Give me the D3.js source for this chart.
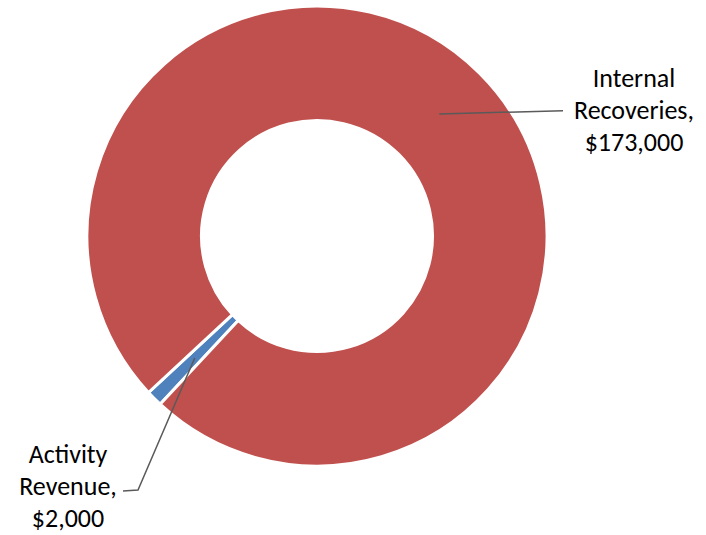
<!DOCTYPE html>
<html><head><meta charset="utf-8">
<script src="https://cdn.jsdelivr.net/npm/d3@7"></script>
<style>html,body{margin:0;padding:0;background:#fff;}svg{display:block;}</style>
</head><body>
<svg id="chart" width="706" height="535"></svg>
<script>
const categories = ["Activity Revenue", "Internal Recoveries"];
const values = [2000, 173000];
const labelLines = [["Activity", "Revenue,", "$2,000"], ["Internal", "Recoveries,", "$173,000"]];
const colors = ["#4F81BD", "#C0504D"];

const svg = d3.select("#chart");
const cx = 317, cy = 236;
const rOuter = 230, rInner = 115.5;
const start = 223 * Math.PI / 180;

const pie = d3.pie().sort(null).value(d => d)
  .startAngle(start).endAngle(start + 2 * Math.PI);
const arcs = pie(values);
const arc = d3.arc().innerRadius(rInner).outerRadius(rOuter);
const mid = d3.arc().innerRadius((117 + 228.5) / 2).outerRadius((117 + 228.5) / 2);

const g = svg.append("g").attr("transform", `translate(${cx},${cy})`);
g.selectAll("path.slice").data(arcs).enter().append("path")
  .attr("class", "slice")
  .attr("d", arc)
  .attr("fill", (d, i) => colors[i])
  .attr("stroke", "#fff").attr("stroke-width", 3).attr("stroke-linejoin", "miter");

// label layout (positions)
const labelPos = [
  { x: 68, y: 463, lead: [[138, 490], [123, 491]] },
  { x: 634, y: 87, lead: [[563, 110.7]] }
];
const fontSize = 26;
arcs.forEach((d, i) => {
  const c = mid.centroid(d);
  const pts = [[cx + c[0], cy + c[1]]].concat(labelPos[i].lead);
  svg.append("path")
    .attr("d", d3.line()(pts))
    .attr("fill", "none").attr("stroke", "#5a5a5a").attr("stroke-width", 1.5);
  const t = svg.append("text")
    .attr("text-anchor", "middle")
    .attr("font-family", "Carlito, Calibri, Lato, 'Liberation Sans', sans-serif")
    .attr("font-size", fontSize).attr("fill", "#000");
  labelLines[i].forEach((ln, k) => {
    t.append("tspan").attr("x", labelPos[i].x).attr("y", labelPos[i].y + k * 31.8).text(ln);
  });
});
</script>
</body></html>
